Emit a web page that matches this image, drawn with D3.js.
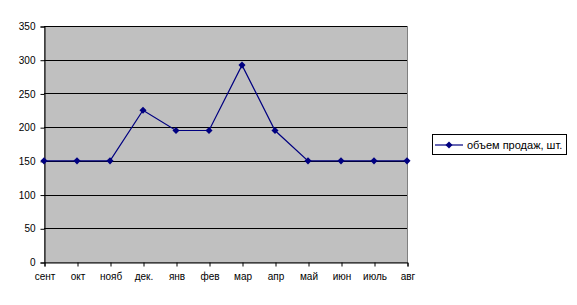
<!DOCTYPE html>
<html>
<head>
<meta charset="utf-8">
<script src="https://d3js.org/d3.v7.min.js"></script>
<style>
  body { margin: 0; background: #fff; }
  text { font-family: Arial, "Liberation Sans", sans-serif; }
</style>
</head>
<body>
<div id="chart"></div>
<script>
  // data
  var months = ["сент", "окт", "нояб", "дек.", "янв", "фев", "мар", "апр", "май", "июн", "июль", "авг"];
  var sales = [150, 150, 150, 225, 195, 195, 292, 195, 150, 150, 150, 150];
  var yTicks = [0, 50, 100, 150, 200, 250, 300, 350];
  var seriesName = "объем продаж, шт.";

  var width = 577, height = 305;
  var plotLeft = 44, plotRight = 407, plotTop = 26, plotBottom = 262;

  var svg = d3.select("#chart").append("svg")
    .attr("width", width)
    .attr("height", height);

  var x = d3.scalePoint().domain(months).range([plotLeft, plotRight]);
  var y = d3.scaleLinear().domain([0, 350]).range([plotBottom, plotTop]);

  // plot background
  svg.append("rect")
    .attr("x", plotLeft + 0.5).attr("y", plotTop + 0.5)
    .attr("width", plotRight - plotLeft).attr("height", plotBottom - plotTop)
    .attr("fill", "#c0c0c0")
    .attr("stroke", "#808080");

  // gridlines
  svg.selectAll(".grid").data(yTicks.filter(function(d) { return d > 0; }))
    .enter().append("line")
    .attr("x1", plotLeft).attr("x2", plotRight)
    .attr("y1", function(d) { return Math.round(y(d)) + 0.5; })
    .attr("y2", function(d) { return Math.round(y(d)) + 0.5; })
    .attr("stroke", "#000")
    .attr("stroke-width", 1);

  // y axis
  var yAxis = svg.append("g")
    .attr("transform", "translate(" + (plotLeft + 0.5) + ",0.5)")
    .call(d3.axisLeft(y).tickValues(yTicks).tickSize(4).tickPadding(5));
  yAxis.select(".domain").attr("stroke", "#000");
  yAxis.selectAll("text").attr("font-size", 10).attr("font-family", "Arial, 'Liberation Sans', sans-serif").attr("fill", "#000");

  // x axis
  var xAxis = svg.append("g")
    .attr("transform", "translate(0.5," + (plotBottom + 0.5) + ")")
    .call(d3.axisBottom(x).tickSize(4).tickPadding(6));
  xAxis.select(".domain").attr("stroke", "#000");
  xAxis.selectAll("text").attr("font-size", 10).attr("font-family", "Arial, 'Liberation Sans', sans-serif").attr("fill", "#000");

  // series line
  var line = d3.line()
    .x(function(d, i) { return x(months[i]); })
    .y(function(d) { return y(d); });

  svg.append("path")
    .datum(sales)
    .attr("d", line)
    .attr("fill", "none")
    .attr("stroke", "#000080")
    .attr("stroke-width", 1.2);

  var diamond = d3.symbol().type(d3.symbolDiamond2).size(32);

  svg.selectAll(".pt").data(sales)
    .enter().append("path")
    .attr("d", diamond)
    .attr("transform", function(d, i) { return "translate(" + x(months[i]) + "," + y(d) + ")"; })
    .attr("fill", "#000080");

  // legend
  var lg = svg.append("g");
  lg.append("rect")
    .attr("x", 432.5).attr("y", 134.5)
    .attr("width", 134).attr("height", 20)
    .attr("fill", "#fff")
    .attr("stroke", "#000");
  lg.append("line")
    .attr("x1", 435).attr("x2", 463)
    .attr("y1", 145).attr("y2", 145)
    .attr("stroke", "#000080").attr("stroke-width", 1.2);
  lg.append("path")
    .attr("d", diamond)
    .attr("transform", "translate(449,145)")
    .attr("fill", "#000080");
  lg.append("text")
    .attr("x", 467).attr("y", 149)
    .attr("font-size", 11)
    .attr("fill", "#000")
    .text(seriesName);
</script>
</body>
</html>
